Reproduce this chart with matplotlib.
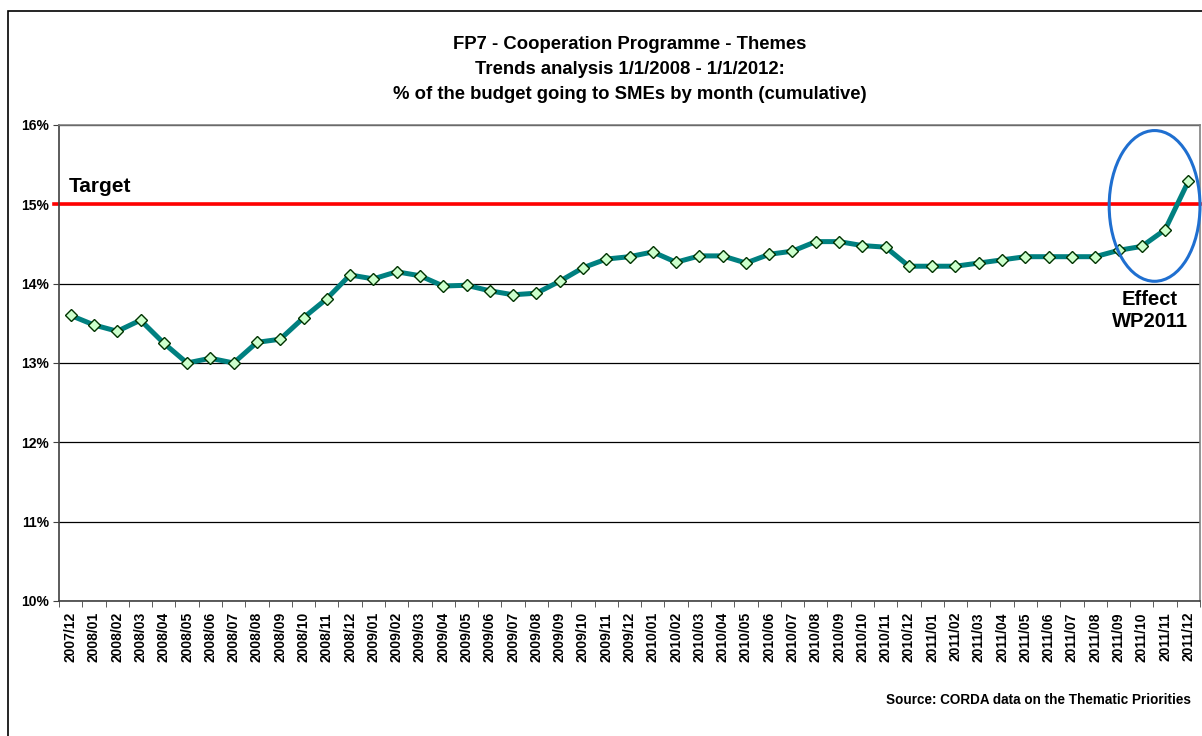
import matplotlib
matplotlib.use("Agg")
import matplotlib.pyplot as plt
from matplotlib.patches import Ellipse, Rectangle
from matplotlib.ticker import FixedLocator, PercentFormatter

plt.rcParams['font.family'] = ['Liberation Sans', 'DejaVu Sans']

months = ["2007/12", "2008/01", "2008/02", "2008/03", "2008/04", "2008/05", "2008/06",
          "2008/07", "2008/08", "2008/09", "2008/10", "2008/11", "2008/12", "2009/01",
          "2009/02", "2009/03", "2009/04", "2009/05", "2009/06", "2009/07", "2009/08",
          "2009/09", "2009/10", "2009/11", "2009/12", "2010/01", "2010/02", "2010/03",
          "2010/04", "2010/05", "2010/06", "2010/07", "2010/08", "2010/09", "2010/10",
          "2010/11", "2010/12", "2011/01", "2011/02", "2011/03", "2011/04", "2011/05",
          "2011/06", "2011/07", "2011/08", "2011/09", "2011/10", "2011/11", "2011/12"]
sme_share = [13.60, 13.48, 13.40, 13.54, 13.25, 13.00, 13.06, 13.00, 13.26, 13.30,
             13.57, 13.81, 14.11, 14.06, 14.15, 14.10, 13.97, 13.98, 13.91, 13.86,
             13.88, 14.03, 14.20, 14.31, 14.34, 14.40, 14.27, 14.35, 14.35, 14.26,
             14.37, 14.41, 14.53, 14.53, 14.48, 14.46, 14.22, 14.22, 14.22, 14.26,
             14.30, 14.34, 14.34, 14.34, 14.34, 14.42, 14.47, 14.68, 15.29]
target = 15.0
y_ticks = [10, 11, 12, 13, 14, 15, 16]

title = ("FP7 - Cooperation Programme - Themes\n"
         "Trends analysis 1/1/2008 - 1/1/2012:\n"
         "% of the budget going to SMEs by month (cumulative)")

W, H = 1202, 736
fig = plt.figure(figsize=(W / 100, H / 100), dpi=100)
fig.patch.set_facecolor('white')
fig.patches.append(Rectangle((8 / W, -0.05), 1.2, 1.05 - 11 / H,
                             transform=fig.transFigure, fill=False,
                             edgecolor='black', linewidth=1.2))

ax = fig.add_axes([59 / W, 1 - 601 / H, (1200 - 59) / W, (601 - 125) / H])
n = len(months)
x = list(range(n))

ax.set_xlim(-0.5, n - 0.5)
ax.set_ylim(10, 16)

for yv in y_ticks:
    ax.axhline(yv, color='black', linewidth=0.9, zorder=1)

ax.axhline(target, color='#FF0000', linewidth=2.6, zorder=2, xmin=-0.004, clip_on=False)

ax.plot(x, sme_share, color='#008080', linewidth=3.6, zorder=3,
        marker='D', markersize=6.5, markerfacecolor='#CCFFCC',
        markeredgecolor='#003300', markeredgewidth=1.0)

ax.add_patch(Ellipse((46.55, 14.98), 3.9, 1.90, fill=False,
                     edgecolor='#1F6FD0', linewidth=2.2, zorder=4, clip_on=False))

ax.text(-0.1, 15.1, "Target", fontsize=15, fontweight='bold', ha='left', va='bottom')
ax.text(46.35, 13.66, "Effect\nWP2011", fontsize=14.5, fontweight='bold',
        ha='center', va='center', linespacing=1.2)

ax.set_yticks(y_ticks)
ax.yaxis.set_major_formatter(PercentFormatter(decimals=0))
ax.set_xticks(x)
ax.set_xticklabels(months, rotation=90, fontsize=10, fontweight='bold')
ax.xaxis.set_minor_locator(FixedLocator([i - 0.5 for i in range(n + 1)]))
ax.tick_params(axis='x', which='major', length=0, pad=8)
ax.tick_params(axis='x', which='minor', length=4, direction='out', color='#404040')
ax.tick_params(axis='y', length=4, direction='out', color='#404040', pad=3)
for lab in ax.get_yticklabels():
    lab.set_fontweight('bold')
    lab.set_fontsize(10)

ax.spines['left'].set_color('#404040')
ax.spines['bottom'].set_color('#404040')
ax.spines['top'].set_color('#808080')
ax.spines['right'].set_color('#808080')
for s in ax.spines.values():
    s.set_linewidth(1.2)

fig.text(630 / W, 1 - 69.5 / H, title, ha='center', va='center', fontsize=13.3,
         fontweight='bold', linespacing=1.65)
fig.text(1191 / W, 1 - 700 / H, "Source: CORDA data on the Thematic Priorities",
         ha='right', va='center', fontsize=9.75, fontweight='bold')

fig.savefig('out.png', dpi=100, facecolor='white')
